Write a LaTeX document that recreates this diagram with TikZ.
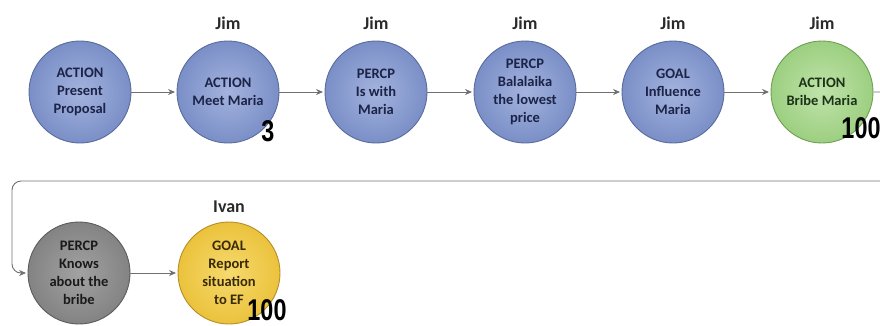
\documentclass[tikz,border=0pt]{standalone}
\usepackage{fontspec}
\setmainfont{Carlito}
\newfontfamily\numfont{Liberation Sans}
\usetikzlibrary{arrows.meta}

% palette
\definecolor{blueIn}{HTML}{A4B3DE}
\definecolor{blueOut}{HTML}{7A8FC7}
\definecolor{blueEdge}{HTML}{5B6B9C}
\definecolor{blueText}{HTML}{1B2347}
\definecolor{greenIn}{HTML}{C0E3AA}
\definecolor{greenOut}{HTML}{9CCF80}
\definecolor{greenEdge}{HTML}{6F9E55}
\definecolor{greenText}{HTML}{1C3318}
\definecolor{grayIn}{HTML}{A2A2A2}
\definecolor{grayOut}{HTML}{838383}
\definecolor{grayEdge}{HTML}{5C5C5C}
\definecolor{grayText}{HTML}{1A1A1A}
\definecolor{yellowIn}{HTML}{F6DA6E}
\definecolor{yellowOut}{HTML}{EBC23C}
\definecolor{yellowEdge}{HTML}{B58F25}
\definecolor{yellowText}{HTML}{3A2A05}
\definecolor{linkGray}{HTML}{707070}
\definecolor{actorText}{HTML}{2A2A2A}

\tikzset{
  stage/.style={circle, minimum size=102pt, inner sep=0pt, align=center,
    line width=0.9pt, font=\bfseries\fontsize{14.5}{18}\selectfont},
  bluestage/.style={stage, draw=blueEdge, inner color=blueIn, outer color=blueOut, text=blueText},
  greenstage/.style={stage, draw=greenEdge, inner color=greenIn, outer color=greenOut, text=greenText},
  graystage/.style={stage, draw=grayEdge, inner color=grayIn, outer color=grayOut, text=grayText},
  yellowstage/.style={stage, draw=yellowEdge, inner color=yellowIn, outer color=yellowOut, text=yellowText},
  actor/.style={font=\bfseries\fontsize{18}{20}\selectfont, text=actorText, inner sep=0pt},
  score/.style={font=\numfont\bfseries\fontsize{30}{30}\selectfont, text=black, inner sep=0pt},
  link/.style={draw=linkGray, line width=0.9pt, shorten >=1.5pt,
    -{Stealth[length=7pt,width=6pt]}},
}

\begin{document}
\begin{tikzpicture}[x=1pt,y=-1pt]
  \useasboundingbox (0,0) rectangle (880,325);
  \clip (0,0) rectangle (880,325);

  % first row
  \node[bluestage]  (present) at (80,92)  {ACTION\\Present\\Proposal};
  \node[bluestage]  (meet)    at (228,92) {ACTION\\Meet Maria};
  \node[bluestage]  (iswith)  at (376,92) {PERCP\\Is with\\Maria};
  \node[bluestage]  (lowest)  at (525,92) {PERCP\\Balalaika\\the lowest\\price};
  \node[bluestage]  (influence) at (673,92) {GOAL\\Influence\\Maria};
  \node[greenstage] (bribe)   at (822,92) {ACTION\\Bribe Maria};

  % second row
  \node[graystage]   (knows)  at (79,273)  {PERCP\\Knows\\about the\\bribe};
  \node[yellowstage] (report) at (229,273) {GOAL\\Report\\situation\\to EF};

  % owners
  \node[actor] (jim1) at (228,23) {Jim};
  \node[actor] (jim2) at (376,23) {Jim};
  \node[actor] (jim3) at (525,23) {Jim};
  \node[actor] (jim4) at (673,23) {Jim};
  \node[actor] (jim5) at (822,23) {Jim};
  \node[actor] (ivan) at (229,207) {Ivan};

  % scores
  \node[score] (s1) at (268,131) {\scalebox{0.78}[1]{3}};
  \node[score] (s2) at (861,128) {\scalebox{0.78}[1]{100}};
  \node[score] (s3) at (267,310) {\scalebox{0.78}[1]{100}};

  % sequence
  \draw[link] (present) -- (meet);
  \draw[link] (meet) -- (iswith);
  \draw[link] (iswith) -- (lowest);
  \draw[link] (lowest) -- (influence);
  \draw[link] (influence) -- (bribe);
  \coordinate (wrapA) at (900,92);
  \coordinate (wrapB) at (900,181);
  \coordinate (wrapC) at (12,181);
  \draw[link, rounded corners=9pt] (bribe.east) -- (wrapA) -- (wrapB) -- (wrapC) |- (knows.west);
  \draw[link] (knows) -- (report);
\end{tikzpicture}
\end{document}
